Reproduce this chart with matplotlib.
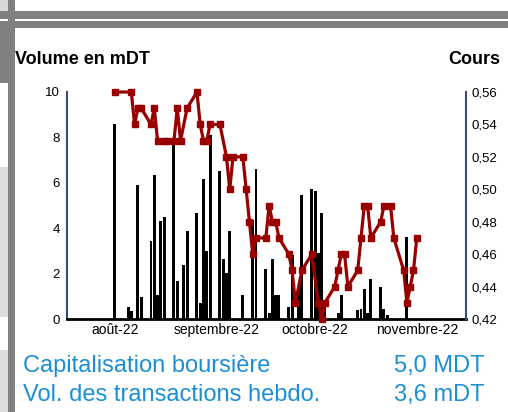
import matplotlib
matplotlib.use("Agg")
import matplotlib.pyplot as plt
import matplotlib.dates as mdates
from matplotlib.patches import Rectangle
import numpy as np

plt.rcParams['font.family'] = ['Liberation Sans', 'DejaVu Sans']

# Cours (axe de droite)
cours_dates = ['2022-08-01', '2022-08-06', '2022-08-07', '2022-08-08', '2022-08-09',
               '2022-08-12', '2022-08-13', '2022-08-14', '2022-08-16', '2022-08-17',
               '2022-08-19', '2022-08-20', '2022-08-21', '2022-08-23', '2022-08-26',
               '2022-08-27', '2022-08-28', '2022-08-29', '2022-08-30', '2022-09-02',
               '2022-09-04', '2022-09-05', '2022-09-06', '2022-09-09', '2022-09-10',
               '2022-09-11', '2022-09-12', '2022-09-13', '2022-09-16', '2022-09-17',
               '2022-09-18', '2022-09-19', '2022-09-20', '2022-09-23', '2022-09-24',
               '2022-09-25', '2022-09-27', '2022-09-30', '2022-10-02', '2022-10-03',
               '2022-10-04', '2022-10-07', '2022-10-08', '2022-10-09', '2022-10-10',
               '2022-10-11', '2022-10-14', '2022-10-15', '2022-10-16', '2022-10-17',
               '2022-10-18', '2022-10-21', '2022-10-22', '2022-10-24', '2022-10-25',
               '2022-10-28', '2022-10-29', '2022-10-30', '2022-10-31', '2022-11-01']
cours = [0.56, 0.56, 0.54, 0.55, 0.55,
         0.54, 0.55, 0.53, 0.53, 0.53,
         0.53, 0.55, 0.53, 0.55, 0.56,
         0.54, 0.53, 0.53, 0.54, 0.54,
         0.52, 0.50, 0.52, 0.52, 0.50,
         0.48, 0.46, 0.47, 0.47, 0.49,
         0.48, 0.48, 0.47, 0.46, 0.45,
         0.43, 0.45, 0.46, 0.43, 0.42,
         0.43, 0.44, 0.45, 0.46, 0.46,
         0.44, 0.45, 0.47, 0.49, 0.49,
         0.47, 0.48, 0.49, 0.49, 0.47,
         0.45, 0.43, 0.44, 0.45, 0.47]

# Volume en mDT (axe de gauche)
vol_dates = ['2022-08-01', '2022-08-05', '2022-08-06', '2022-08-08', '2022-08-09',
             '2022-08-12', '2022-08-13', '2022-08-14', '2022-08-15', '2022-08-16',
             '2022-08-19', '2022-08-20', '2022-08-22', '2022-08-23', '2022-08-26',
             '2022-08-27', '2022-08-28', '2022-08-29', '2022-08-30', '2022-09-02',
             '2022-09-03', '2022-09-04', '2022-09-05', '2022-09-09', '2022-09-12',
             '2022-09-13', '2022-09-16', '2022-09-17', '2022-09-18', '2022-09-19',
             '2022-09-20', '2022-09-23', '2022-09-24', '2022-09-26', '2022-09-27',
             '2022-09-30', '2022-10-01', '2022-10-02', '2022-10-03', '2022-10-04',
             '2022-10-08', '2022-10-09', '2022-10-14', '2022-10-15', '2022-10-16',
             '2022-10-17', '2022-10-18', '2022-10-21', '2022-10-22', '2022-10-23',
             '2022-10-29']
volume = [8.6, 0.54, 0.35, 5.9, 0.97,
          3.44, 6.34, 1.06, 4.32, 4.49,
          7.89, 1.67, 2.38, 3.88, 4.67,
          0.7, 6.17, 3.0, 8.1, 6.52,
          2.65, 2.03, 3.88, 1.06, 4.36,
          6.6, 2.2, 0.26, 2.64, 1.06,
          1.06, 0.53, 2.82, 1.41, 5.46,
          5.72, 5.64, 2.9, 4.67, 0.84,
          0.26, 1.06, 0.4, 0.44, 1.32,
          0.26, 1.76, 1.41, 0.44, 0.18,
          3.61]

mois = ['2022-08-01', '2022-09-01', '2022-10-01', '2022-11-01']
mois_labels = ['août-22', 'septembre-22', 'octobre-22', 'novembre-22']

W, H = 508, 412
fig = plt.figure(figsize=(W / 100, H / 100), dpi=100)


def px_rect(x0, y0, x1, y1, color):
    # rectangle in pixel coords (y from top)
    fig.patches.append(Rectangle((x0 / W, 1 - y1 / H), (x1 - x0) / W, (y1 - y0) / H,
                                 transform=fig.transFigure, color=color, lw=0, zorder=-5))


# cadre gris
px_rect(0, 0, 8, 11, '#d8d8d8')
px_rect(0, 11, W, 19, '#808080')
px_rect(0, 21, W, 28, '#808080')
px_rect(0, 28, 8, 83, '#808080')
px_rect(0, 167, 8, 317, '#dcdcdc')
px_rect(0, 350, 8, H, '#dcdcdc')
px_rect(8, 0, 15, H, '#808080')

ax = fig.add_axes([67 / W, 1 - 319 / H, (466 - 67) / W, (319 - 92) / H])
ax2 = ax.twinx()

vd = mdates.datestr2num(vol_dates)
cd = mdates.datestr2num(cours_dates)
ax.bar(vd, volume, width=0.9, color='black', zorder=2)
ax2.plot(cd, cours, color='#990000', lw=2.3, marker='s', ms=4.3, zorder=3,
         clip_on=False)

ax.set_ylim(0, 10)
ax.set_yticks(range(0, 11, 2))
ax2.set_ylim(0.42, 0.56)
ax2.set_yticks(np.arange(0.42, 0.5601, 0.02))
ax2.set_yticklabels([f"{v:.2f}".replace('.', ',') for v in np.arange(0.42, 0.5601, 0.02)])

m0 = mdates.datestr2num('2022-08-01')
ax.set_xlim(m0 - 14.6, m0 + 107.0)
ax.set_xticks(mdates.datestr2num(mois))
ax.set_xticklabels(mois_labels)

for a in (ax, ax2):
    a.spines['top'].set_visible(False)
    a.tick_params(length=0)
ax.spines['right'].set_visible(False)
ax2.spines['bottom'].set_visible(False)
ax2.spines['left'].set_visible(False)
ax.spines['left'].set_color('#3d4785')
ax.spines['left'].set_linewidth(1.5)
ax2.spines['right'].set_color('#3d4785')
ax2.spines['right'].set_linewidth(1.5)
ax.spines['bottom'].set_color('black')
ax.spines['bottom'].set_linewidth(2)
ax.tick_params(axis='y', labelsize=9.5, pad=5)
ax2.tick_params(axis='y', labelsize=9.5, pad=4)
ax.tick_params(axis='x', labelsize=10, pad=3)

fig.text(15 / W, 1 - 60 / H, 'Volume en mDT', fontsize=13, fontweight='bold',
         ha='left', va='center')
fig.text(500 / W, 1 - 60 / H, 'Cours', fontsize=13, fontweight='bold',
         ha='right', va='center')

bleu = '#1a8fd6'
fig.text(23 / W, 1 - 366 / H, 'Capitalisation boursière', fontsize=17, color=bleu,
         ha='left', va='center')
fig.text(484 / W, 1 - 366 / H, '5,0 MDT', fontsize=17, color=bleu, ha='right', va='center')
fig.text(23 / W, 1 - 395 / H, 'Vol. des transactions hebdo.', fontsize=17, color=bleu,
         ha='left', va='center')
fig.text(484 / W, 1 - 395 / H, '3,6 mDT', fontsize=17, color=bleu, ha='right', va='center')

fig.savefig('out.png', dpi=100)
